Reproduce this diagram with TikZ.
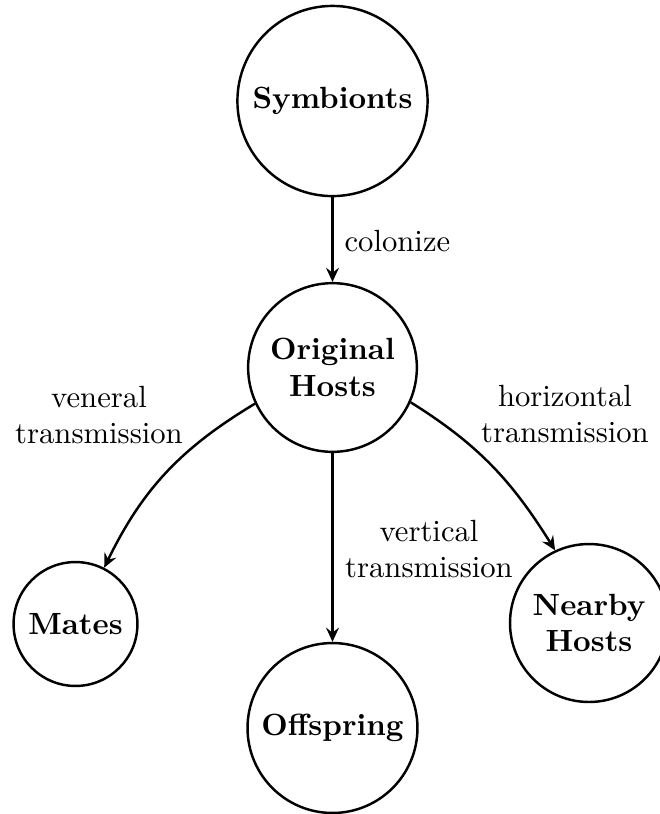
\documentclass[tikz,border=0pt]{standalone}
\usetikzlibrary{arrows.meta}
\begin{document}
\begin{tikzpicture}[x=0.326pt,y=-0.326pt,
  cnode/.style={circle,draw,thick,inner sep=0pt,font=\bfseries,align=center},
  arr/.style={thick,-{Stealth[length=4.6pt,width=4.2pt,inset=1.6pt]}},
  lbl/.style={align=center,inner sep=0pt}]
\useasboundingbox (0,0) rectangle (660,814);
\node[cnode,minimum size=62pt] (sym) at (332.5,101) {Symbionts};
\node[cnode,minimum size=55pt] (oh) at (332.5,367.5) {Original\\Hosts};
\node[cnode,minimum size=40.4pt] (mates) at (75.5,624) {Mates};
\node[cnode,minimum size=55.4pt] (off) at (332.5,728) {Offspring};
\node[cnode,minimum size=51.5pt] (near) at (589,623) {Nearby\\Hosts};
\draw[arr] (sym.south) -- (oh.north);
\draw[arr] (oh.south) -- (off.north);
\draw[arr] (oh.205) to[out=211,in=64] (mates.63);
\draw[arr] (oh.-24) to[out=-32,in=122] (near.115);
\node[lbl,anchor=west] (lc) at (344,241) {colonize};
\node[lbl] (lv) at (99,415) {veneral\\transmission};
\node[lbl] (lh) at (565,414) {horizontal\\transmission};
\node[lbl] (lvt) at (429,549) {vertical\\transmission};
\end{tikzpicture}
\end{document}
